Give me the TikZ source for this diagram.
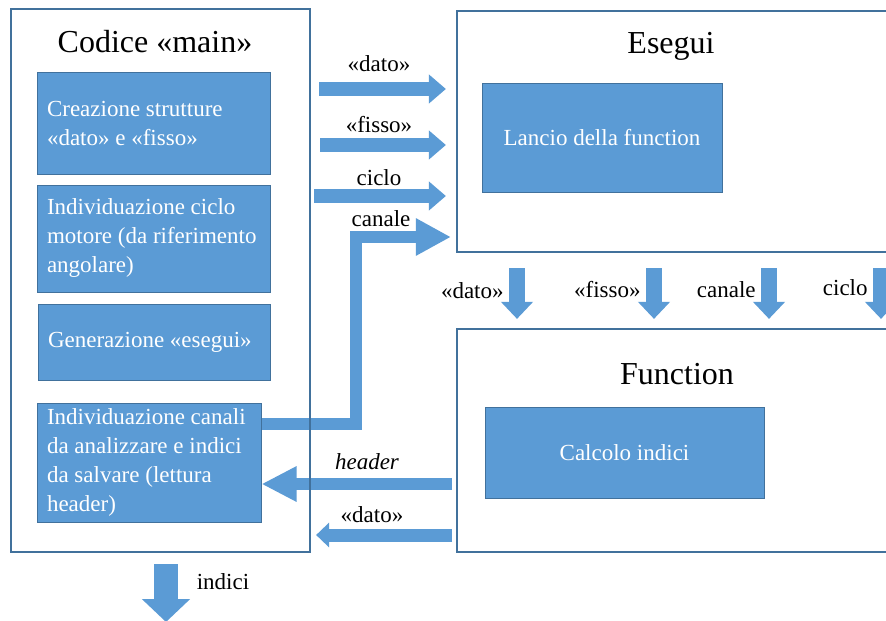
\documentclass[tikz,border=0pt]{standalone}
\usepackage{fontspec}
\setmainfont{Liberation Serif}
\usetikzlibrary{arrows.meta}
\definecolor{boxblue}{HTML}{5B9BD5}
\definecolor{lineblue}{HTML}{41719C}
\pgfdeclarelayer{under}
\pgfsetlayers{under,main}
\tikzset{
  outerbox/.style={draw=lineblue, line width=1.1pt, inner sep=0pt},
  task/.style={draw=lineblue, line width=0.5pt, fill=boxblue, text=white, inner sep=0pt, font=\fontsize{11.5}{14.5}\selectfont},
  tasktext/.style={task, align=flush left, text width=#1, inner xsep=5pt},
  heading/.style={font=\fontsize{16}{19}\selectfont, anchor=base},
  tag/.style={font=\fontsize{11.5}{14}\selectfont, anchor=base, inner sep=0pt},
  flow/.style={draw=boxblue, line width=7pt, -{Triangle[length=8.5pt,width=14pt]}},
}
\begin{document}
\begin{tikzpicture}[x=0.5pt,y=-0.5pt] %one unit is one pixel of the 886x620 sketch, y runs downwards
\useasboundingbox (0,0) rectangle (886,620);
\clip (0,0) rectangle (886,620); %the right side of both blocks runs off the page
%Outer blocks:
\node[outerbox, minimum width=149.5pt, minimum height=271.5pt] (main) at (160.5,280.5) {};
\node[outerbox, minimum width=224pt, minimum height=120.5pt] (esegui) at (681,131.5) {};
\node[outerbox, minimum width=224pt, minimum height=111.5pt] (function) at (681,440.5) {};
\node[heading] (maintitle) at (155,53) {Codice «main»};
\node[heading] (eseguititle) at (671,54) {Esegui};
\node[heading] (functiontitle) at (677,384) {Function};
%Steps of the main code (one \mbox per line, so nothing gets hyphenated):
\node[tasktext=106.5pt, minimum width=116.5pt, minimum height=50.5pt] (crea) at (153.5,123.5) {\mbox{Creazione strutture}\\\mbox{«dato» e «fisso»}};
\node[tasktext=106.5pt, minimum width=116.5pt, minimum height=53.5pt] (ciclo) at (153.5,238.5) {\mbox{Individuazione ciclo}\\\mbox{motore (da riferimento}\\\mbox{angolare)}};
\node[tasktext=106pt, minimum width=116pt, minimum height=38pt] (genera) at (154,342) {\mbox{Generazione «esegui»}};
\node[tasktext=102pt, minimum width=112pt, minimum height=59.5pt] (canali) at (149,462.5) {\mbox{Individuazione canali}\\\mbox{da analizzare e indici}\\\mbox{da salvare (lettura}\\\mbox{header)}};
%Inner steps of esegui and function:
\node[task, minimum width=120pt, minimum height=54pt] (lancio) at (602,138) {Lancio della function};
\node[task, minimum width=139.5pt, minimum height=45.5pt] (calcolo) at (624.5,452.5) {Calcolo indici};
\begin{pgfonlayer}{under}
\fill[white] (0,0) rectangle (886,620); %page background
%main -> esegui
\foreach \y/\xs/\ly/\txt [count=\i] in {89/319/72/«dato»,145/320/133/«fisso»,196/314/185/ciclo}{
  \coordinate (in\i) at (\xs,\y);
  \draw[flow] (in\i) -- ([xshift=-5pt]esegui.west |- in\i);
  \node[tag] (inlab\i) at (379,\ly) {\txt};
}
\coordinate (bend) at (356,237); %corner of the canale arrow
\draw[flow, line width=6pt, line join=miter, -{Triangle[length=17.5pt,width=17.5pt]}] ([yshift=19.25pt]canali.east) -| (bend) -- ([xshift=-2.5pt]esegui.west |- bend);
\node[tag] (canlab) at (381,226) {canale};
%esegui -> function
\foreach \x/\ly/\txt [count=\i] in {517/298/«dato»,654/297/«fisso»,769/297/canale,881/295/ciclo}{
  \coordinate (dn\i) at (\x,0);
  \draw[flow, line width=8pt, -{Triangle[length=8.5pt,width=15.5pt]}] ([yshift=-7.5pt]esegui.south -| dn\i) -- ([yshift=4.5pt]function.north -| dn\i);
  \node[tag, anchor=base east] (dnlab\i) at (\x-13,\ly) {\txt};
}
%function -> main
\coordinate (hdr) at (452,484);
\draw[flow, line width=6pt, -{Triangle[length=17.5pt,width=16.5pt]}] (hdr) -- (canali.east |- hdr);
\node[tag, font=\fontsize{11.5}{14}\selectfont\itshape] (hdrlab) at (367,469) {header};
\coordinate (ret) at (452,535);
\draw[flow, line width=6.5pt, -{Triangle[length=6.5pt,width=12pt]}] (ret) -- ([xshift=2.5pt]main.east |- ret);
\node[tag] (retlab) at (372,522) {«dato»};
%output of main
\coordinate (ind) at (166,622);
\draw[flow, line width=12pt, -{Triangle[length=11.5pt,width=23.5pt]}] ([yshift=-5.5pt]main.south -| ind) -- (ind);
\node[tag] (indlab) at (223,589) {indici};
\end{pgfonlayer}
\end{tikzpicture}
\end{document}
